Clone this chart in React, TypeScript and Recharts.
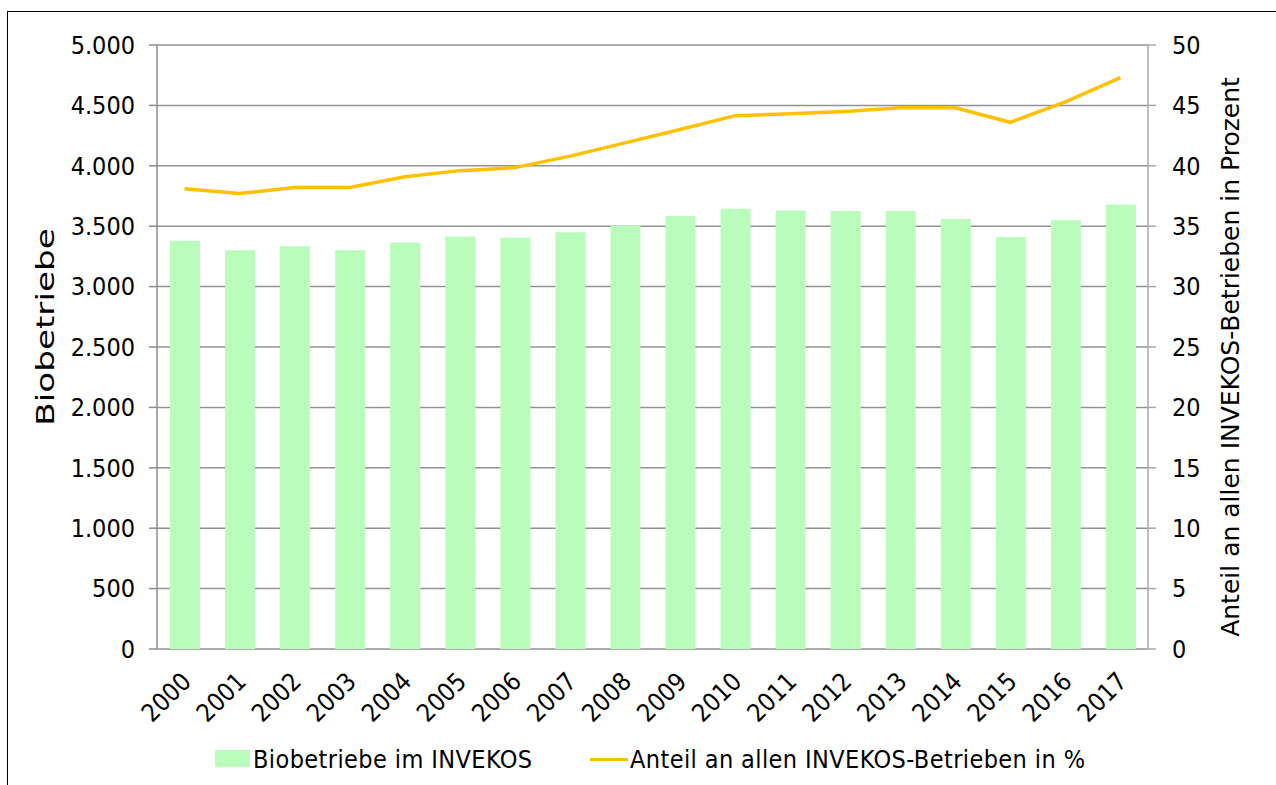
import React from "react";
import { ComposedChart, Bar, Line, XAxis, YAxis, CartesianGrid, Legend } from "recharts";

const FONT = "'DejaVu Sans Condensed', 'DejaVu Sans', sans-serif";
const TITLE_FONT = "'DejaVu Sans', sans-serif";
const GREEN = "#b9fcbb";
const GOLD = "#ffc000";
const GRID = "#929292";

const years = [
  "2000", "2001", "2002", "2003", "2004", "2005", "2006", "2007", "2008",
  "2009", "2010", "2011", "2012", "2013", "2014", "2015", "2016", "2017",
];
const biobetriebe = [
  3380, 3300, 3335, 3300, 3365, 3415, 3405, 3450, 3505,
  3585, 3645, 3630, 3625, 3625, 3560, 3410, 3550, 3680,
];
const anteil = [
  38.1, 37.7, 38.2, 38.2, 39.1, 39.6, 39.85, 40.8, 41.9,
  43.0, 44.15, 44.3, 44.5, 44.8, 44.8, 43.6, 45.3, 47.3,
];
const leftTicks = [0, 500, 1000, 1500, 2000, 2500, 3000, 3500, 4000, 4500, 5000];
const rightTicks = [0, 5, 10, 15, 20, 25, 30, 35, 40, 45, 50];

// tick marks sit between the categories, so a hidden numeric axis carries them
const boundaryTicks = [...years.map((_, i) => i), years.length];

const data = years.map((year, i) => ({
  year,
  pos: i + 0.5,
  biobetriebe: biobetriebe[i],
  anteil: anteil[i],
}));

const fmt = (v: number) => String(v).replace(/\B(?=(\d{3})+(?!\d))/g, ".");

const tickStyle = { fontSize: 25, fill: "#000", fontFamily: FONT };

function YearTick({ x, y, payload }: any) {
  const ax = x + 8;
  const ay = y + 34;
  return (
    <text
      x={ax}
      y={ay}
      transform={`rotate(-45, ${ax}, ${ay})`}
      textAnchor="end"
      fontSize={25}
      fontFamily={FONT}
      fill="#000"
    >
      {payload.value}
    </text>
  );
}

// rotated axis title; baseline at bx, centred on the plot height plus shift
const axisTitle = (text: string, bx: number, shift: number, stretch: number) => (props: any) => {
  const vb = props.viewBox || {};
  const cy = vb.y + vb.height / 2 + shift;
  return (
    <text
      transform={`translate(${bx}, ${cy}) rotate(-90) scale(${stretch}, 1)`}
      textAnchor="middle"
      fontSize={25}
      fontFamily={TITLE_FONT}
      fill="#000"
    >
      {text}
    </text>
  );
};

const renderLegend = () => (
  <div
    style={{
      position: "relative", width: 1276, height: 40, fontFamily: FONT,
      fontSize: 25, letterSpacing: 0.4, color: "#000",
    }}
  >
    <div style={{ position: "absolute", left: 215, top: 5, width: 35, height: 17, background: GREEN }} />
    <span style={{ position: "absolute", left: 253, top: 0, whiteSpace: "nowrap" }}>Biobetriebe im INVEKOS</span>
    <div style={{ position: "absolute", left: 590, top: 13, width: 38, height: 3, background: GOLD }} />
    <span style={{ position: "absolute", left: 630, top: 0, whiteSpace: "nowrap" }}>
      Anteil an allen INVEKOS-Betrieben in %
    </span>
  </div>
);

export default function App() {
  return (
    <div style={{ position: "absolute", left: 0, top: 0, width: 1276, height: 785, overflow: "hidden", background: "#fff" }}>
      <div
        style={{
          position: "absolute", left: 7, top: 11, width: 1300, height: 800,
          border: "1px solid #000", pointerEvents: "none",
        }}
      />
      <ComposedChart
        width={1276}
        height={785}
        data={data}
        margin={{ top: 45, right: 0, left: 0, bottom: 0 }}
        style={{ fontFamily: FONT }}
      >
        <CartesianGrid xAxisId="cat" yAxisId="left" vertical={false} stroke={GRID} strokeWidth={1.5} />
        <XAxis
          xAxisId="b"
          dataKey="pos"
          type="number"
          domain={[0, years.length]}
          ticks={boundaryTicks}
          height={0}
          tick={false}
          tickSize={7}
          stroke={GRID}
          strokeWidth={1.5}
          allowDataOverflow
        />
        <XAxis
          xAxisId="cat"
          dataKey="year"
          height={96}
          interval={0}
          axisLine={false}
          tickLine={false}
          tickSize={0}
          tickMargin={0}
          tick={<YearTick />}
        />
        <YAxis
          yAxisId="left"
          width={157}
          domain={[0, 5000]}
          ticks={leftTicks}
          tickFormatter={fmt}
          tickSize={8}
          tickMargin={14}
          stroke="#8c8c8c"
          strokeWidth={1.5}
          tick={tickStyle}
          label={axisTitle("Biobetriebe", 54, -20, 1.37)}
        />
        <YAxis
          yAxisId="right"
          orientation="right"
          width={128}
          domain={[0, 50]}
          ticks={rightTicks}
          tickSize={8}
          tickMargin={16}
          stroke="#a8a8a8"
          strokeWidth={1.5}
          tick={{ ...tickStyle, textAnchor: "start" }}
          label={axisTitle("Anteil an allen INVEKOS-Betrieben in Prozent", 1239, 10, 1)}
        />
        <Legend verticalAlign="bottom" content={renderLegend} />
        <Bar
          xAxisId="cat"
          yAxisId="left"
          dataKey="biobetriebe"
          name="Biobetriebe im INVEKOS"
          fill={GREEN}
          barSize={30}
          isAnimationActive={false}
        />
        <Line
          xAxisId="cat"
          yAxisId="right"
          type="linear"
          dataKey="anteil"
          name="Anteil an allen INVEKOS-Betrieben in %"
          stroke={GOLD}
          strokeWidth={3.5}
          dot={false}
          isAnimationActive={false}
        />
      </ComposedChart>
    </div>
  );
}
